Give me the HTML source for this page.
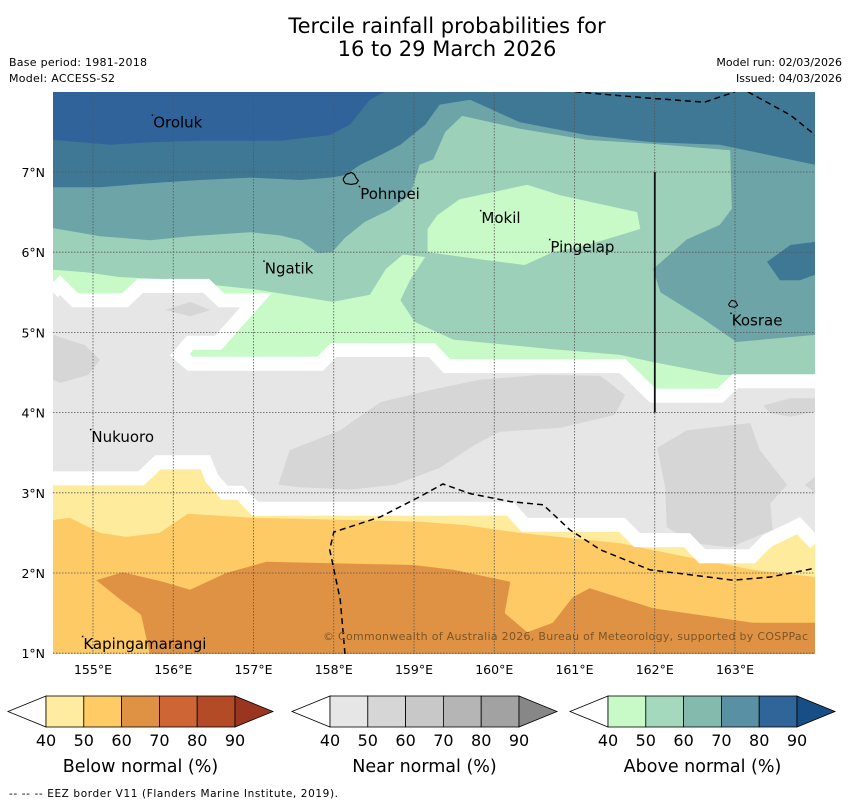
<!DOCTYPE html>
<html><head><meta charset="utf-8">
<style>
body{margin:0;background:#fff;width:850px;height:804px;overflow:hidden;font-family:"DejaVu Sans","Liberation Sans",sans-serif;}
svg{display:block;font-family:"DejaVu Sans","Liberation Sans",sans-serif;}
</style></head>
<body>
<svg id="root" width="850" height="804" viewBox="0 0 850 804" xmlns="http://www.w3.org/2000/svg">
<defs><clipPath id="mapclip"><rect x="53" y="92" width="762" height="562"/></clipPath></defs>
<text x="447" y="33" text-anchor="middle" font-size="21" fill="#000">Tercile rainfall probabilities for</text>
<text x="447" y="56" text-anchor="middle" font-size="21" fill="#000">16 to 29 March 2026</text>
<text x="9" y="66" font-size="11" textLength="138">Base period: 1981-2018</text>
<text x="9" y="82" font-size="11" textLength="106">Model: ACCESS-S2</text>
<text x="842" y="66" font-size="11" text-anchor="end">Model run: 02/03/2026</text>
<text x="842" y="82" font-size="11" text-anchor="end">Issued: 04/03/2026</text>
<g id="map" clip-path="url(#mapclip)"></g>
<g id="axes"></g>
<g id="legend"></g>
<text x="9" y="797" font-size="10.5" textLength="329">--  --  -- EEZ border V11 (Flanders Marine Institute, 2019).</text>
</svg>
<script>
// ---- data (lon, lat) ----
const lonTicks = [155,156,157,158,159,160,161,162,163];
const latTicks = [1,2,3,4,5,6,7];
const grayPatch1 = [[157.31,3.10],[157.45,3.53],[158.08,3.78],[158.58,4.13],[159.20,4.28],[159.82,4.41],[160.57,4.47],[161.32,4.46],[161.63,4.22],[161.50,3.97],[160.82,3.81],[160.07,3.76],[159.76,3.60],[159.32,3.31],[158.76,3.10],[158.20,3.04],[157.58,3.07]];
const grayPatch2 = [[162.03,3.56],[162.40,3.78],[163.19,3.87],[163.31,3.53],[163.65,3.10],[163.44,2.87],[163.47,2.54],[162.94,2.32],[162.48,2.37],[162.15,2.57],[162.13,3.07]];
const grayPatch3 = [[154.50,4.97],[154.90,4.84],[155.09,4.66],[154.94,4.47],[154.59,4.37],[154.50,4.41]];
const grayPatch4 = [[155.90,5.28],[156.21,5.38],[156.46,5.28],[156.21,5.20]];
const grayPatch5 = [[163.35,4.09],[163.69,4.18],[164,4.18],[164,4.01],[163.69,3.95],[163.44,3.99]];
const grayPatch6 = [[164,3.20],[163.87,3.10],[164,3.00]];
const whiteAbove = [[154.50,5.50],[154.59,5.59],[154.78,5.40],[155.40,5.40],[155.59,5.58],[156.41,5.58],[156.60,5.40],[157.03,5.40],[156.56,4.87],[156.21,4.87],[156.08,4.72],[156.21,4.61],[157.83,4.61],[158.00,4.78],[159.22,4.78],[159.41,4.58],[161.60,4.58],[161.98,4.21],[162.81,4.21],[163.00,4.39],[164.00,4.39]];
const above50 = [[154.50,5.78],[154.91,5.75],[155.34,5.69],[155.75,5.67],[156.99,5.54],[157.99,5.38],[158.45,5.47],[158.65,5.79],[158.86,5.97],[159.14,5.94],[158.95,5.65],[158.83,5.40],[159.01,5.13],[159.49,4.91],[160.73,4.79],[161.57,4.72],[161.98,4.63],[162.81,4.47],[164.00,4.46]];
const above60 = [[154.50,6.30],[155.09,6.20],[155.71,6.15],[156.21,6.20],[156.96,6.25],[157.33,6.21],[157.58,6.15],[157.80,5.99],[157.98,6.00],[158.14,6.18],[158.39,6.38],[158.70,6.53],[158.95,6.71],[159.07,7.09],[159.24,7.16],[159.39,7.50],[159.60,7.70],[160.32,7.54],[161.16,7.40],[161.98,7.35],[162.94,7.27],[162.96,6.54],[162.81,6.34],[162.40,6.16],[161.98,5.79],[162.07,5.50],[162.60,5.17],[163.02,4.88],[164.00,4.97]];
const above70 = [[154.50,6.81],[155.09,6.81],[155.71,6.86],[156.33,6.90],[156.96,6.93],[157.58,6.90],[157.95,6.93],[158.14,6.96],[158.33,7.09],[158.58,7.21],[158.83,7.34],[159.14,7.59],[159.32,7.84],[159.70,7.90],[160.32,7.62],[161.16,7.46],[161.98,7.37],[162.81,7.34],[164.00,7.09]];
const above80 = [[154.50,7.40],[155.21,7.34],[155.71,7.37],[156.33,7.39],[157.33,7.39],[157.95,7.46],[158.20,7.59],[158.45,7.90],[158.64,8.00]];
const kosraeBlob = [[164,6.13],[163.69,6.09],[163.40,5.88],[163.56,5.65],[163.81,5.65],[164.00,5.72]];
const mokilPatch = [[159.17,6.29],[159.29,6.46],[159.57,6.66],[160.41,6.84],[160.82,6.71],[161.78,6.50],[161.82,6.29],[161.16,6.09],[160.73,6.00],[160.38,5.84],[159.91,5.90],[159.17,6.00]];
const whiteBelow = [[154.50,3.18],[155.60,3.18],[155.81,3.38],[156.40,3.38],[156.48,3.18],[156.64,3.00],[156.83,3.00],[157.02,2.80],[159.07,2.80],[160.20,2.80],[160.38,2.60],[161.59,2.60],[161.78,2.41],[162.40,2.41],[162.59,2.21],[163.21,2.21],[163.40,2.40],[163.79,2.59],[164.00,2.37]];
const below50 = [[154.50,2.66],[154.71,2.69],[155.09,2.50],[155.41,2.45],[155.83,2.50],[156.18,2.74],[156.99,2.69],[159.07,2.64],[159.61,2.60],[160.32,2.50],[161.57,2.37],[162.40,2.20],[163.22,2.04],[164.00,1.95]];
const below60 = [[155.71,0.98],[155.60,1.48],[155.34,1.67],[155.04,1.91],[155.37,2.01],[155.87,1.89],[156.21,1.79],[156.66,2.00],[157.16,2.14],[158.99,2.10],[159.49,2.04],[160.20,1.89],[160.13,1.50],[160.41,1.26],[160.73,1.38],[160.98,1.70],[161.19,1.81],[161.98,1.56],[163.22,1.38],[164.00,1.38],[164.00,0.98]];
const eezTop1 = [[161.01,8.0],[161.94,7.92],[162.62,7.87],[163.0,8.0]];
const eezTop2 = [[163.16,8.0],[163.69,7.71],[164,7.46]];
const eezBottom = [[158.14,0.99],[158.08,1.67],[157.95,2.29],[158.0,2.51],[158.58,2.70],[159.07,2.95],[159.36,3.11],[159.70,2.99],[160.20,2.89],[160.61,2.85],[160.94,2.54],[161.32,2.29],[161.94,2.04],[162.98,1.91],[163.44,1.95],[164,2.06]];
const boundaryLine = [[162,7],[162,4]];
const islandNames = ["Oroluk","Pohnpei","Mokil","Pingelap","Ngatik","Kosrae","Nukuoro","Kapingamarangi"];
const islandLon = [155.75,158.33,159.84,160.70,157.14,162.96,154.98,154.88];
const islandLat = [7.73,6.84,6.54,6.18,5.91,5.26,3.81,1.23];

const X = lon => 93 + (lon-155)*80.25;
const Y = lat => 172 + (7-lat)*80.2;
const NS = "http://www.w3.org/2000/svg";
const map = document.getElementById('map');
const axes = document.getElementById('axes');
const legend = document.getElementById('legend');
function mk(tag, parent, attrs){const e=document.createElementNS(NS,tag);for(const k in attrs)e.setAttribute(k,attrs[k]);parent.appendChild(e);return e;}
function pts(arr){return arr.map(p=>X(p[0]).toFixed(1)+','+Y(p[1]).toFixed(1)).join(' ');}
function topPoly(arr){return [[154.5,8.01],[164,8.01]].concat(arr.slice().reverse());}
function botPoly(arr){return arr.concat([[164,0.98],[154.5,0.98]]);}

let e;
e = mk('rect', map, {x:53,y:92,width:762,height:562,fill:'#e6e6e6'});


[grayPatch1,grayPatch2,grayPatch3,grayPatch4,grayPatch5,grayPatch6].forEach(pa=>{
  const g = mk('polygon', map, {points:pts(pa), fill:'#d6d6d6'});
  
  
});
e = mk('polygon', map, {points:pts(topPoly(whiteAbove)), fill:'#c8fac8'});


e = mk('polygon', map, {points:pts(topPoly(above50)), fill:'#9dd0b9'});


e = mk('polygon', map, {points:pts(mokilPatch), fill:'#c8fac8'});


e = mk('polygon', map, {points:pts(topPoly(above60)), fill:'#6ca4a7'});


e = mk('polygon', map, {points:pts(kosraeBlob), fill:'#3e7894'});


e = mk('polygon', map, {points:pts(topPoly(above70)), fill:'#3e7894'});


e = mk('polygon', map, {points:pts(topPoly(above80)), fill:'#30639a'});


e = mk('polyline', map, {points:pts(whiteAbove), fill:'none', stroke:'#fff','stroke-width':14,'stroke-linejoin':'miter'});


e = mk('polygon', map, {points:pts(botPoly(whiteBelow)), fill:'#ffeb9c'});


e = mk('polygon', map, {points:pts(botPoly(below50)), fill:'#fdca65'});


e = mk('polygon', map, {points:pts(below60), fill:'#df9244'});


e = mk('polyline', map, {points:pts(whiteBelow), fill:'none', stroke:'#fff','stroke-width':14,'stroke-linejoin':'miter'});



// gridlines
lonTicks.forEach(l=>{
  const g = mk('line', map, {x1:X(l),x2:X(l),y1:92,y2:654,stroke:'#555','stroke-width':0.8,'stroke-dasharray':'1.5,1.5'});
  
  
});
latTicks.forEach(l=>{
  const g = mk('line', map, {x1:53,x2:815,y1:Y(l),y2:Y(l),stroke:'#555','stroke-width':0.8,'stroke-dasharray':'1.5,1.5'});
  
  
});
// EEZ & boundary
[eezTop1,eezTop2,eezBottom].forEach(a=>{
  const g = mk('polyline', map, {points:pts(a), fill:'none', stroke:'#000','stroke-width':1.5,'stroke-dasharray':'6,4'});
  
  
});
e = mk('polyline', map, {points:pts(boundaryLine), fill:'none', stroke:'#111','stroke-width':1.8});


// Pohnpei and Kosrae outlines
e = mk('path', map, {d:`M${X(158.12)} ${Y(6.92)} l3 -4 l5 -2 l3 2 l2 4 l2 2 l-2 3 l-5 1 l-6 -1 l-2 -3 z`, fill:'none', stroke:'#000','stroke-width':1.2});


e = mk('path', map, {d:`M${X(162.92)} ${Y(5.35)} l3 -4 l4 1 l2 4 l-3 2 l-5 -1 z`, fill:'none', stroke:'#000','stroke-width':1});


islandNames.forEach((n,i)=>{
  const d = mk('rect', map, {x:X(islandLon[i])-1.5,y:Y(islandLat[i])+1,width:1.5,height:1.5,fill:'#000'});
  
  
  const t = mk('text', map, {x:X(islandLon[i]), y:Y(islandLat[i])+14, 'font-size':15, fill:'#000'});
  t.textContent = n;
  
  
});
e = mk('text', map, {x:323,y:640,'font-size':11,textLength:485,fill:'#7a5526'});
e.textContent = '© Commonwealth of Australia 2026, Bureau of Meteorology, supported by COSPPac';



// axis labels
lonTicks.forEach(l=>{
  const t = mk('text', axes, {x:X(l), y:674, 'font-size':12.5, 'text-anchor':'middle'});
  t.textContent = l + '°E';
  
  
});
latTicks.forEach(l=>{
  const t = mk('text', axes, {x:45, y:Y(l)+5, 'font-size':12.5, 'text-anchor':'end'});
  t.textContent = l + '°N';
  
  
});

// colorbars
const cbLabels = ['40','50','60','70','80','90'];
const cbTitles = ['Below normal (%)','Near normal (%)','Above normal (%)'];
const cbColors = [
 ['#ffeca0','#fecb65','#df9244','#cd6534','#b34b27','#9a3520'],
 ['#e6e6e6','#d6d6d6','#c8c8c8','#b5b5b5','#a2a2a2','#878787'],
 ['#c8fac8','#a5d9bd','#84b9ad','#5990a3','#2f6599','#174e85']
];
const cbStart = [46,330,608];
const cbW = 37.8, cbTop = 696, cbH = 31;
cbColors.forEach((cols,k)=>{
  const x0 = cbStart[k];
  const g = mk('g', legend, {});
  
  
  const lt = mk('polygon', g, {points:`${x0},${cbTop} ${x0-38},${cbTop+cbH/2} ${x0},${cbTop+cbH}`, fill:'#fff', stroke:'#000','stroke-width':0.8});
  
  
  for(let i=0;i<5;i++){
    const r = mk('rect', g, {x:x0+i*cbW,y:cbTop,width:cbW,height:cbH,fill:cols[i],stroke:'#000','stroke-width':0.8});
    
    
  }
  const xe = x0+5*cbW;
  const rt = mk('polygon', g, {points:`${xe},${cbTop} ${xe+38},${cbTop+cbH/2} ${xe},${cbTop+cbH}`, fill:cols[5], stroke:'#000','stroke-width':0.8});
  
  
  cbLabels.forEach((lab,i)=>{
    const t = mk('text', g, {x:x0+i*cbW, y:746, 'font-size':16, 'text-anchor':'middle'});
    t.textContent = lab;
    
    
  });
  const tt = mk('text', g, {x:x0+2.5*cbW, y:772, 'font-size':17.5, 'text-anchor':'middle'});
  tt.textContent = cbTitles[k];
  
  
});
</script>
</body></html>
